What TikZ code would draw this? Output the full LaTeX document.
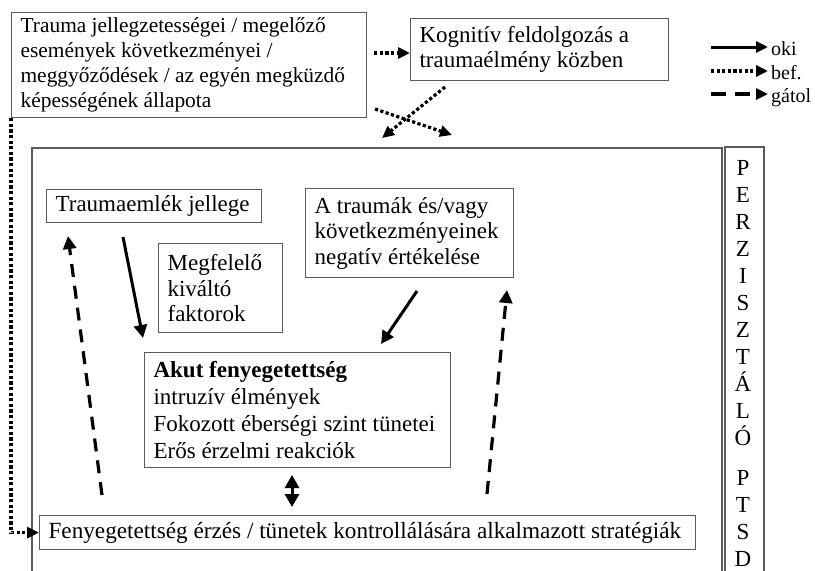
\documentclass[tikz,border=0pt]{standalone}
\usepackage{fontspec}
\setmainfont{Liberation Serif}
\usetikzlibrary{arrows.meta}
\definecolor{boxgray}{RGB}{90,90,90}
\begin{document}
\begin{tikzpicture}[x=1pt,y=-1pt,
  box/.style={draw=boxgray, line width=1.2pt, inner xsep=9pt, inner ysep=0pt,
    align=flush left, anchor=north west, font=\fontsize{23}{25.5}\selectfont},
  smallfont/.style={font=\fontsize{21.4}{25}\selectfont},
  frame/.style={draw=boxgray, line width=1.2pt},
  solidarrow/.style={line width=3pt, -{Triangle[length=13pt,width=13pt]}},
  dotarrow/.style={line width=3.2pt, dash pattern=on 3.2pt off 2.4pt, -{Triangle[length=12pt,width=11pt]}},
  dasharrow/.style={line width=3.2pt, dash pattern=on 13pt off 9pt, -{Triangle[length=13pt,width=13pt]}},
  letter/.style={anchor=base, inner sep=0pt, font=\fontsize{23}{25}\selectfont},
  legendtext/.style={anchor=base west, inner sep=0pt, font=\fontsize{20}{22}\selectfont}
]
\useasboundingbox (0,0) rectangle (815,571);

% boxes
\node[box, smallfont, minimum width=355pt, minimum height=105pt, text width=337pt] (src) at (11,12)
  {Trauma jellegzetességei / megelőző\\események következményei /\\meggyőződések / az egyén megküzdő\\képességének állapota};
\node[box, minimum width=258pt, minimum height=62pt, text width=240pt] (kog) at (410,18)
  {Kognitív feldolgozás a\\traumaélmény közben};
\node[box, minimum width=215pt, minimum height=33pt, text width=197pt] (mem) at (46,189)
  {Traumaemlék jellege};
\node[box, minimum width=124pt, minimum height=89pt, text width=106pt] (trig) at (158,243)
  {Megfelelő\\kiváltó\\faktorok};
\node[box, minimum width=208pt, minimum height=89pt, text width=190pt] (neg) at (305,188)
  {A traumák és/vagy\\következményeinek\\negatív értékelése};
\node[box, minimum width=306pt, minimum height=115pt, text width=288pt,
  font=\fontsize{23}{27.2}\selectfont] (akut) at (144,352)
  {\textbf{Akut fenyegetettség}\\intruzív élmények\\Fokozott éberségi szint tünetei\\Erős érzelmi reakciók};
\node[box, minimum width=656pt, minimum height=34pt, text width=638pt,
  font=\fontsize{23.2}{25}\selectfont] (strat) at (39,515)
  {Fenyegetettség érzés / tünetek kontrollálására alkalmazott stratégiák};

% open frames
\draw[frame] (32,571) -- (32,148) -- (722,148) -- (722,571);
\draw[frame] (725,571) -- (725,147) -- (764,147) -- (764,571);

% vertical label
\foreach \ch/\yy [count=\i] in {P/175, E/202, R/229, Z/256, I/283, S/310, Z/337, T/364, Á/391, L/418, Ó/445, P/485, T/512, S/539, D/566}
  \node[letter] (ptsd\i) at (743,\yy) {\ch};

% coordinates for free arrow ends
\coordinate (d1s) at (375,109);
\coordinate (d1e) at (452,135);
\coordinate (d2s) at (445,87);
\coordinate (d2e) at (382,138);
\coordinate (s1s) at (123,237);
\coordinate (s1e) at (143,338);
\coordinate (s2s) at (417,291);
\coordinate (s2e) at (381,344);
\coordinate (g1s) at (102,495);
\coordinate (g1e) at (68,236);
\coordinate (g2s) at (487,494);
\coordinate (g2e) at (507,290);
\coordinate (b1) at (292,475);
\coordinate (b2) at (292,507);

% connectors
\draw[dotarrow] (src.east |- 0,53) ++(7,0) -- (kog.west |- 0,53);
\draw[dotarrow] (src.south west) |- (strat.west);
\draw[dotarrow] (d1s) -- (d1e);
\draw[dotarrow] (d2s) -- (d2e);
\draw[solidarrow] (s1s) -- (s1e);
\draw[solidarrow] (s2s) -- (s2e);
\draw[dasharrow] (g1s) -- (g1e);
\draw[dasharrow] (g2s) -- (g2e);
\draw[line width=3pt, {Triangle[length=13pt,width=14pt]}-{Triangle[length=13pt,width=14pt]}] (b1) -- (b2);

% legend
\coordinate (l1s) at (711,47);  \coordinate (l1e) at (768,47);
\coordinate (l2s) at (711,71);  \coordinate (l2e) at (768,71);
\coordinate (l3s) at (711,94);  \coordinate (l3e) at (768,94);
\draw[solidarrow, -{Triangle[length=12pt,width=11pt]}] (l1s) -- (l1e);
\draw[dotarrow] (l2s) -- (l2e);
\draw[dasharrow, dash pattern=on 15pt off 9pt, -{Triangle[length=12pt,width=11pt]}] (l3s) -- (l3e);
\node[legendtext] (oki) at (771,55) {oki};
\node[legendtext] (bef) at (771,79) {bef.};
\node[legendtext] (gatol) at (771,102) {gátol};
\end{tikzpicture}
\end{document}
